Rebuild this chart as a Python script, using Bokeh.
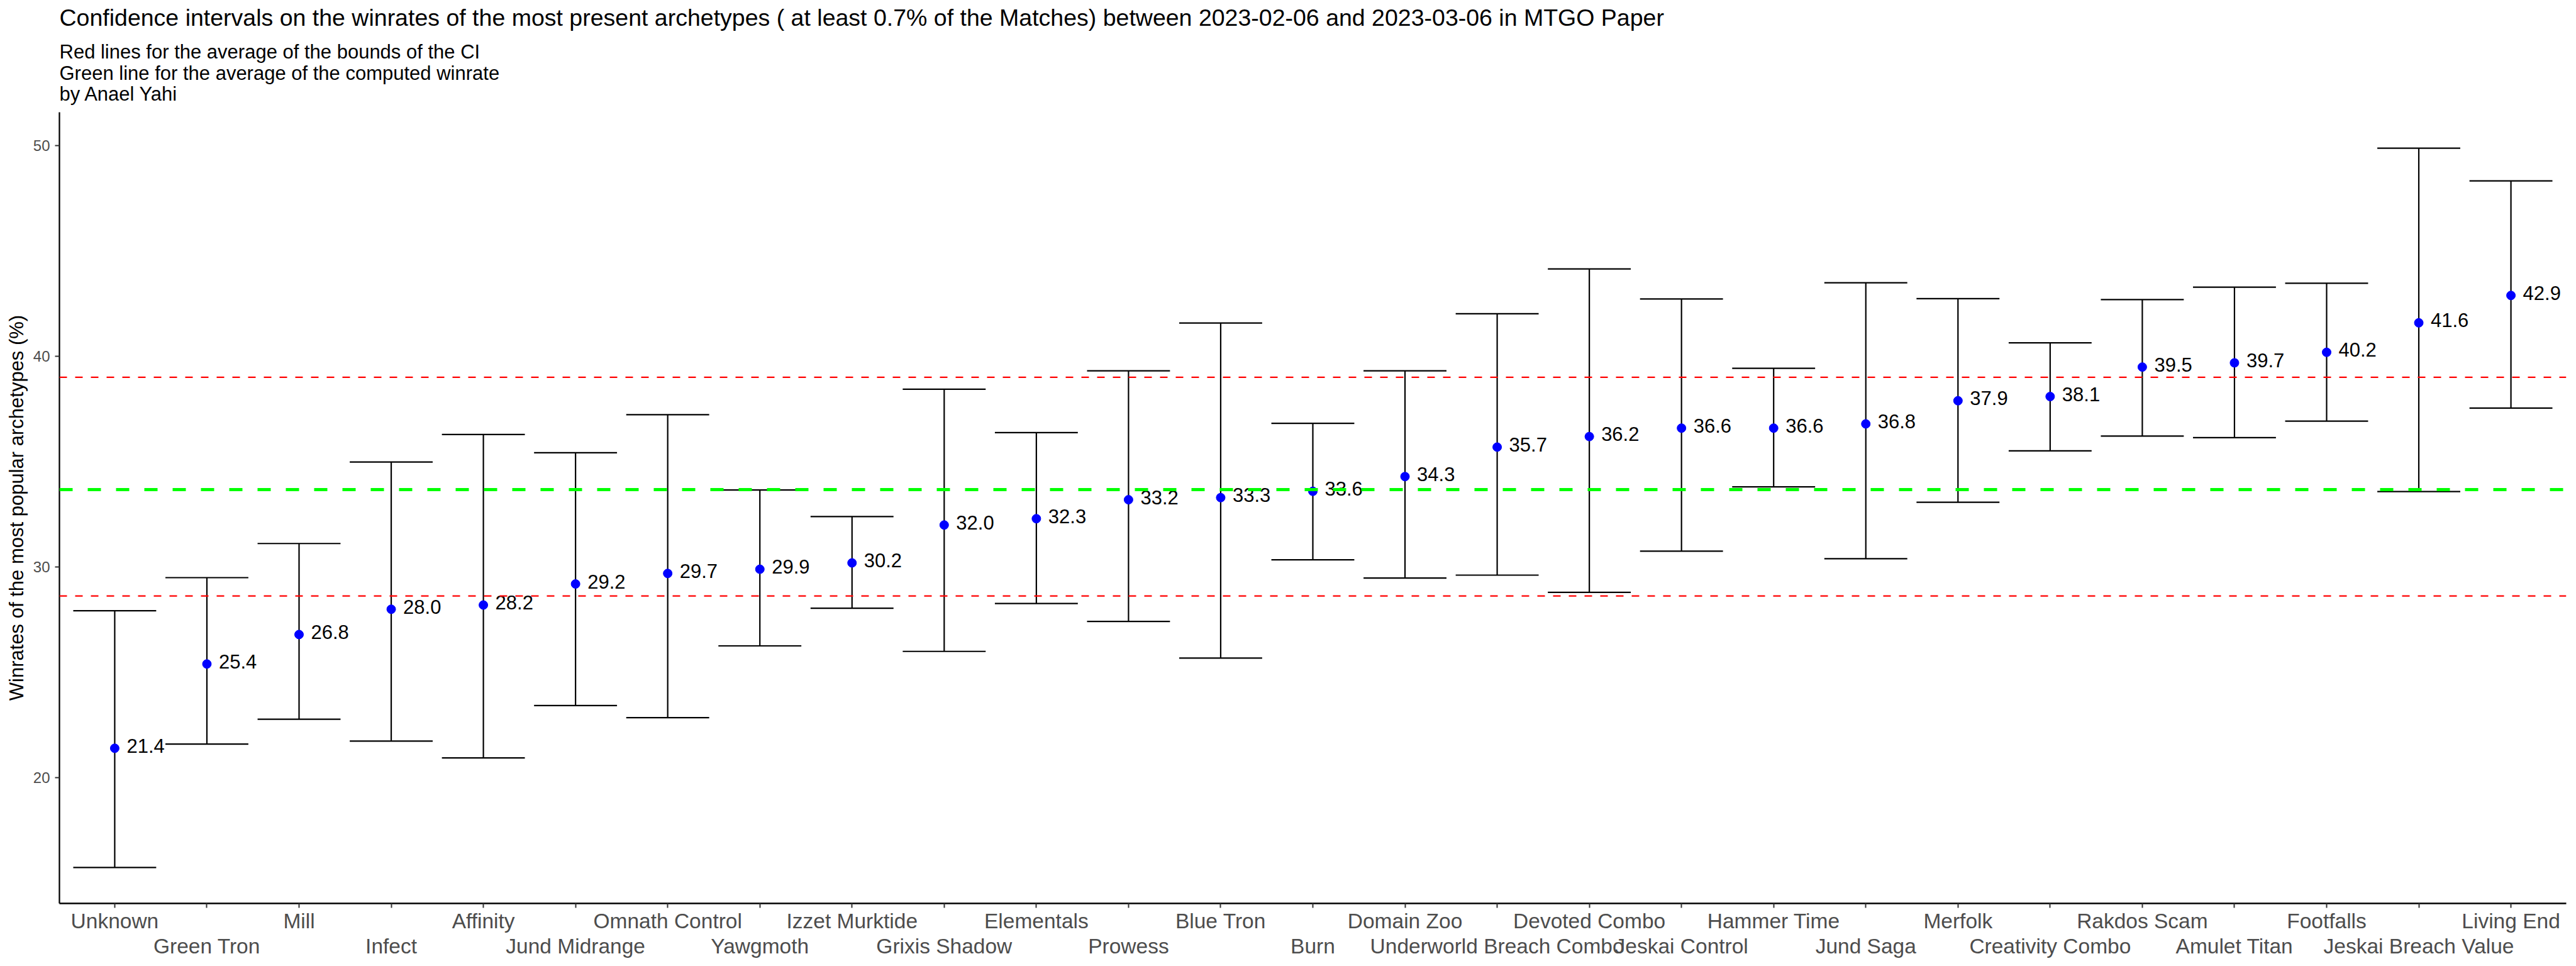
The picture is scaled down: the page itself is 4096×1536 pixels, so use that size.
from bokeh.plotting import figure
from bokeh.models import (ColumnDataSource, FactorRange, Range1d, FixedTicker,
                          CategoricalAxis, Span, Title, CustomJSTickFormatter)
from bokeh.transform import dodge
from bokeh.core.properties import value
from bokeh.embed import file_html
from bokeh.resources import INLINE

# ---------------- data ----------------
archetypes = ["Unknown", "Green Tron", "Mill", "Infect", "Affinity", "Jund Midrange",
              "Omnath Control", "Yawgmoth", "Izzet Murktide", "Grixis Shadow", "Elementals",
              "Prowess", "Blue Tron", "Burn", "Domain Zoo", "Underworld Breach Combo",
              "Devoted Combo", "Jeskai Control", "Hammer Time", "Jund Saga", "Merfolk",
              "Creativity Combo", "Rakdos Scam", "Amulet Titan", "Footfalls",
              "Jeskai Breach Value", "Living End"]
winrates = [21.4, 25.4, 26.8, 28.0, 28.2, 29.2, 29.7, 29.9, 30.2, 32.0, 32.3, 33.2, 33.3,
            33.6, 34.3, 35.7, 36.2, 36.6, 36.6, 36.8, 37.9, 38.1, 39.5, 39.7, 40.2, 41.6, 42.9]
ci_lower = [15.74, 21.60, 22.78, 21.74, 20.94, 23.43, 22.85, 26.26, 28.05, 26.00, 28.27,
            27.42, 25.68, 30.35, 29.48, 29.62, 28.80, 30.76, 33.81, 30.40, 33.08, 35.52,
            36.22, 36.15, 36.93, 33.59, 37.55]
ci_upper = [27.93, 29.50, 31.12, 34.99, 36.30, 35.43, 37.24, 33.66, 32.40, 38.45, 36.39,
            39.32, 41.59, 36.83, 39.32, 42.03, 44.16, 42.73, 39.44, 43.50, 42.75, 40.65,
            42.70, 43.29, 43.48, 49.89, 48.34]
y_ticks = [20, 30, 40, 50]

title_text = ("Confidence intervals on the winrates of the most present archetypes "
              "( at least 0.7% of the Matches) between 2023-02-06 and 2023-03-06 in MTGO Paper")
subtitle_lines = ["Red lines for the average of the bounds of the CI",
                  "Green line for the average of the computed winrate",
                  "by Anael Yahi"]
y_label = "Winrates of the most popular archetypes (%)"

# derived reference lines (averages)
mean_lower = sum(ci_lower) / len(ci_lower)
mean_upper = sum(ci_upper) / len(ci_upper)
mean_wr = sum(winrates) / len(winrates)
spread = max(ci_upper) - min(ci_lower)
y_start = min(ci_lower) - 0.05 * spread
y_end = max(ci_upper) + 0.05 * spread

# labels alternate between two rows under the axis
row1_labels = archetypes[0::2]
row2_labels = archetypes[1::2]

FONT = "Liberation Sans"
W, H = 4096, 1536

source = ColumnDataSource(dict(
    cat=archetypes, wr=winrates, lower=ci_lower, upper=ci_upper,
    label=[f"{v:.1f}" for v in winrates],
))

p = figure(width=W, height=H, title=None,
           x_range=FactorRange(factors=archetypes, range_padding=0.1,
                               range_padding_units="absolute"),
           y_range=Range1d(y_start, y_end),
           output_backend="svg", toolbar_location=None,
           min_border_left=94, min_border_right=16, min_border_top=178,
           min_border_bottom=100)
p.background_fill_color = "white"
p.border_fill_color = "white"
p.outline_line_color = None
p.xgrid.grid_line_color = None
p.ygrid.grid_line_color = None

# ---- titles ----
sub = Title(text="\n".join(subtitle_lines), text_font=FONT, text_font_size="31px",
            text_font_style="normal", text_color="black", align="left",
            text_line_height=0.97, standoff=22)
p.add_layout(sub, "above")
ttl = Title(text=title_text, text_font=FONT, text_font_size="37.5px",
            text_font_style="normal", text_color="black", align="left", standoff=5)
p.add_layout(ttl, "above")

# ---- error bars ----
p.segment(x0="cat", y0="lower", x1="cat", y1="upper", source=source,
          line_color="black", line_width=2.2)
p.segment(x0=dodge("cat", -0.45, range=p.x_range), y0="upper",
          x1=dodge("cat", 0.45, range=p.x_range), y1="upper",
          source=source, line_color="black", line_width=2.2)
p.segment(x0=dodge("cat", -0.45, range=p.x_range), y0="lower",
          x1=dodge("cat", 0.45, range=p.x_range), y1="lower",
          source=source, line_color="black", line_width=2.2)

# ---- points and labels ----
p.scatter(x="cat", y="wr", source=source, size=14, color="#0000FF")
p.text(x="cat", y="wr", text="label", source=source, x_offset=19, y_offset=-4,
       text_font=value(FONT), text_font_size=value("31px"), text_color="black",
       text_align="left", text_baseline="alphabetic")

# ---- reference lines ----
p.add_layout(Span(location=mean_upper, dimension="width", line_color="#FF0000",
                  line_width=2.4, line_dash="12 13"))
p.add_layout(Span(location=mean_lower, dimension="width", line_color="#FF0000",
                  line_width=2.4, line_dash="12 13"))
p.add_layout(Span(location=mean_wr, dimension="width", line_color="#00FF00",
                  line_width=5, line_dash="21 24"))

# ---- y axis ----
yax = p.yaxis[0]
yax.ticker = FixedTicker(ticks=y_ticks)
yax.axis_line_color = "black"
yax.axis_line_width = 2.3
yax.major_tick_line_color = "#333333"
yax.major_tick_line_width = 2
yax.major_tick_out = 7
yax.major_tick_in = 0
yax.minor_tick_line_color = None
yax.major_label_text_font = FONT
yax.major_label_text_font_size = "24px"
yax.major_label_text_color = "#4D4D4D"
yax.major_label_standoff = 8
yax.axis_label = y_label
yax.axis_label_text_font = FONT
yax.axis_label_text_font_size = "31px"
yax.axis_label_text_font_style = "normal"
yax.axis_label_text_color = "black"
yax.axis_label_standoff = 6

# ---- x axes (two rows of labels) ----
xax = p.xaxis[0]
xax.axis_line_color = "black"
xax.axis_line_width = 2.3
xax.major_tick_line_color = "#333333"
xax.major_tick_line_width = 2
xax.major_tick_out = 7
xax.major_tick_in = 0
xax.minor_tick_line_color = None
xax.major_label_text_font = FONT
xax.major_label_text_font_size = "33.5px"
xax.major_label_text_color = "#4D4D4D"
xax.major_label_standoff = 2
xax.formatter = CustomJSTickFormatter(args=dict(show=row1_labels),
                                      code="return show.includes(tick) ? tick : ''")

xax2 = CategoricalAxis(
    axis_line_color=None, major_tick_line_color=None, minor_tick_line_color=None,
    major_tick_out=0, major_tick_in=0,
    major_label_text_font=FONT, major_label_text_font_size="33.5px",
    major_label_text_color="#4D4D4D", major_label_standoff=0,
    formatter=CustomJSTickFormatter(args=dict(show=row2_labels),
                                    code="return show.includes(tick) ? tick : ''"),
)
p.add_layout(xax2, "below")

open("out.html", "w").write(file_html(p, INLINE))
